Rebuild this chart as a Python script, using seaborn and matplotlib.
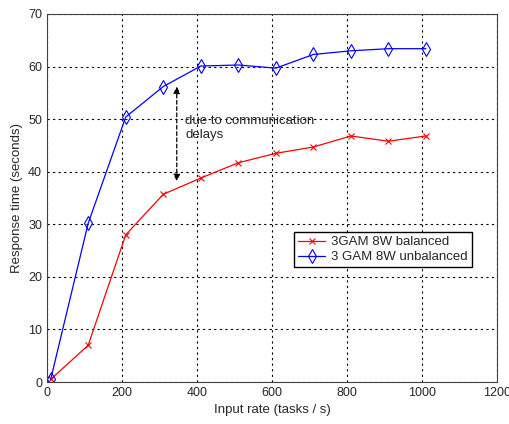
import pandas as pd
import matplotlib
matplotlib.use("Agg")
import matplotlib.pyplot as plt
import seaborn as sns

input_rate = [10, 110, 210, 310, 410, 510, 610, 710, 810, 910, 1010]
balanced = [0.5, 7.0, 28.0, 35.7, 38.8, 41.7, 43.5, 44.7, 46.8, 45.8, 46.8]
unbalanced = [0.5, 30.2, 50.4, 56.2, 60.1, 60.3, 59.7, 62.3, 63.0, 63.4, 63.4]

sns.set_style("white")
plt.rcParams['font.family'] = ['Liberation Sans', 'DejaVu Sans']

fig = plt.figure(figsize=(5.1, 4.24), dpi=100)
ax = fig.add_axes([0.092, 0.099, 0.883, 0.868])

sns.lineplot(x=input_rate, y=balanced, ax=ax, color='red', marker='x',
             markersize=4, markeredgecolor='red', markeredgewidth=0.8,
             linewidth=0.9, label='3GAM 8W balanced')
sns.lineplot(x=input_rate, y=unbalanced, ax=ax, color='blue', marker='d',
             markersize=7, markerfacecolor='none', markeredgecolor='blue',
             markeredgewidth=0.8, linewidth=0.9,
             label='3 GAM 8W unbalanced')

ax.set_xlim(0, 1200)
ax.set_ylim(0, 70)
ax.set_xticks(range(0, 1201, 200))
ax.set_yticks(range(0, 71, 10))
ax.grid(True, color='black', linestyle=(0, (2, 3)), linewidth=0.8)
for s in ax.spines.values():
    s.set_color('#404040')
    s.set_linewidth(0.8)
ax.tick_params(axis='both', labelsize=9, direction='in', length=4, color='#404040')

ax.set_xlabel('Input rate (tasks / s)', fontsize=9.5)
ax.set_ylabel('Response time (seconds)', fontsize=9.5)

ax.annotate('', xy=(346, 38.2), xytext=(346, 56.2),
            arrowprops=dict(arrowstyle='<|-|>', linestyle=(0, (3, 2)),
                            color='black', lw=0.9, mutation_scale=10,
                            shrinkA=0, shrinkB=0))
ax.text(368, 48.3, 'due to communication\ndelays', fontsize=9.5,
        ha='left', va='center', linespacing=1.3)

ax.legend(loc='upper left', bbox_to_anchor=(0.535, 0.425), fontsize=9.5,
          frameon=True, fancybox=False, edgecolor='black', framealpha=1,
          borderpad=0.3, handlelength=2.0, handletextpad=0.5,
          labelspacing=0.2)

fig.savefig('out.png', dpi=100)
